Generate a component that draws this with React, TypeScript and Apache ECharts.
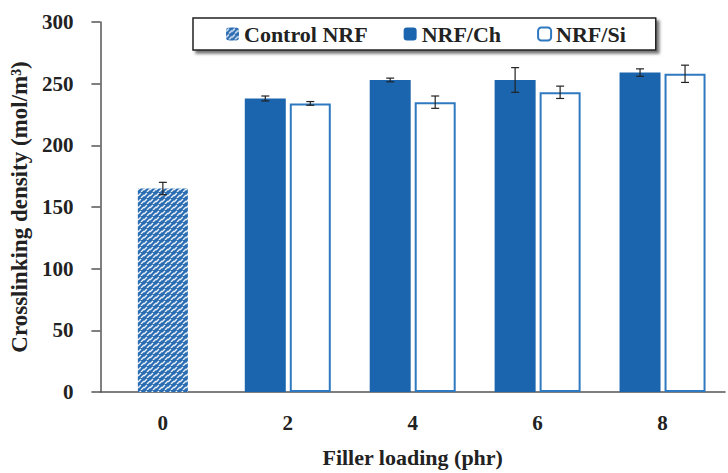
import React, { useEffect, useRef } from "react";
import * as echarts from "echarts";

// Filler loading categories (phr)
const categories = ["0", "2", "4", "6", "8"];
// Control compound (only at 0 phr)
const controlValues = [165, null, null, null, null];
const controlErrors = [5, null, null, null, null];
// Chitosan-filled NRF
const chValues = [null, 238, 253, 253, 259];
const chErrors = [null, 2, 1.5, 10, 3];
// Silica-filled NRF
const siValues = [null, 234, 235, 243, 258];
const siErrors = [null, 1.5, 5, 5, 7];
const yTicks = { min: 0, max: 300, interval: 50 };

const BLUE = "#1a65ad";
const SI_BORDER = "#2f79c0";
const FONT = "Liberation Serif";
const CH_WIDTH = 41;
const SI_WIDTH = 41;
const GAP = 4;

// Small tile of white diagonal dashes over blue, repeated as the control bar fill
function makeHatch(): HTMLCanvasElement {
  const c = document.createElement("canvas");
  c.width = 6;
  c.height = 6;
  const g = c.getContext("2d")!;
  g.fillStyle = "#2a6cb2";
  g.fillRect(0, 0, 6, 6);
  g.strokeStyle = "rgba(255,255,255,0.9)";
  g.lineWidth = 1.4;
  g.beginPath();
  g.moveTo(0, 4);
  g.lineTo(3, 1);
  g.moveTo(3, 6);
  g.lineTo(6, 3);
  g.stroke();
  return c;
}

function errorSeries(values: (number | null)[], errors: (number | null)[], offset: number) {
  const data = values
    .map((v, i) => (v == null ? null : [i, v, errors[i] as number]))
    .filter((d) => d !== null);
  return {
    type: "custom",
    xAxisIndex: 0,
    yAxisIndex: 0,
    silent: true,
    z: 10,
    data,
    renderItem: (_params: any, api: any) => {
      const x = api.value(0);
      const y = api.value(1);
      const e = api.value(2);
      const top = api.coord([x, y + e]);
      const bot = api.coord([x, y - e]);
      const cx = top[0] + offset;
      const cap = 4;
      const style = { stroke: "#222", lineWidth: 1.2 };
      return {
        type: "group",
        children: [
          { type: "line", shape: { x1: cx, y1: top[1], x2: cx, y2: bot[1] }, style },
          { type: "line", shape: { x1: cx - cap, y1: top[1], x2: cx + cap, y2: top[1] }, style },
          { type: "line", shape: { x1: cx - cap, y1: bot[1], x2: cx + cap, y2: bot[1] }, style },
        ],
      };
    },
  };
}

export default function App() {
  const ref = useRef<HTMLDivElement>(null);

  useEffect(() => {
    if (!ref.current) return;
    const chart = echarts.init(ref.current, undefined, { renderer: "svg" });
    const axisText = { color: "#222", fontFamily: FONT, fontWeight: "bold", fontSize: 21 };
    const chOffset = -(CH_WIDTH + GAP) / 2;
    const siOffset = (SI_WIDTH + GAP) / 2;

    chart.setOption({
      animation: false,
      grid: { left: 100, right: 3, top: 22, bottom: 73, containLabel: false },
      legend: {
        left: 193,
        top: 18,
        padding: [5, 30, 5, 33],
        itemGap: 36,
        itemWidth: 13,
        itemHeight: 13,
        borderColor: "#222",
        borderWidth: 1.5,
        backgroundColor: "#fff",
        shadowColor: "rgba(0,0,0,0.55)",
        shadowBlur: 3,
        shadowOffsetX: 3,
        shadowOffsetY: 3,
        textStyle: { ...axisText, fontSize: 22 },
        data: ["Control NRF", "NRF/Ch", "NRF/Si"],
      },
      xAxis: [
        {
          type: "category",
          data: categories,
          axisLine: { lineStyle: { color: "#555", width: 1.5 } },
          axisTick: { alignWithLabel: true, length: 6, lineStyle: { color: "#555", width: 1.5 } },
          axisLabel: { ...axisText, margin: 20 },
          name: "Filler loading (phr)",
          nameLocation: "middle",
          nameGap: 54,
          nameTextStyle: { ...axisText, fontSize: 22 },
        },
        {
          type: "category",
          data: categories,
          show: false,
          position: "bottom",
        },
      ],
      yAxis: {
        type: "value",
        min: yTicks.min,
        max: yTicks.max,
        interval: yTicks.interval,
        axisLine: { show: true, lineStyle: { color: "#555", width: 1.5 } },
        axisTick: { show: true, length: 9, lineStyle: { color: "#555", width: 1.5 } },
        axisLabel: { ...axisText, margin: 27 },
        splitLine: { show: false },
        name: "Crosslinking density (mol/m³)",
        nameLocation: "middle",
        nameGap: 68,
        nameTextStyle: { ...axisText, fontSize: 23 },
      },
      series: [
        {
          name: "Control NRF",
          type: "bar",
          xAxisIndex: 1,
          barWidth: 50,
          data: controlValues,
          itemStyle: { color: { image: makeHatch(), repeat: "repeat" } },
        },
        {
          name: "NRF/Ch",
          type: "bar",
          xAxisIndex: 0,
          barWidth: CH_WIDTH,
          barGap: `${(GAP / CH_WIDTH) * 100}%`,
          data: chValues,
          itemStyle: { color: BLUE },
        },
        {
          name: "NRF/Si",
          type: "bar",
          xAxisIndex: 0,
          barWidth: SI_WIDTH,
          data: siValues,
          itemStyle: { color: "#fff", borderColor: SI_BORDER, borderWidth: 2 },
        },
        errorSeries(controlValues, controlErrors, 0),
        errorSeries(chValues, chErrors, chOffset),
        errorSeries(siValues, siErrors, siOffset),
      ],
    });
    return () => chart.dispose();
  }, []);

  return (
    <div
      ref={ref}
      style={{ position: "fixed", left: 0, top: 0, width: 728, height: 473, background: "#fff" }}
    />
  );
}
